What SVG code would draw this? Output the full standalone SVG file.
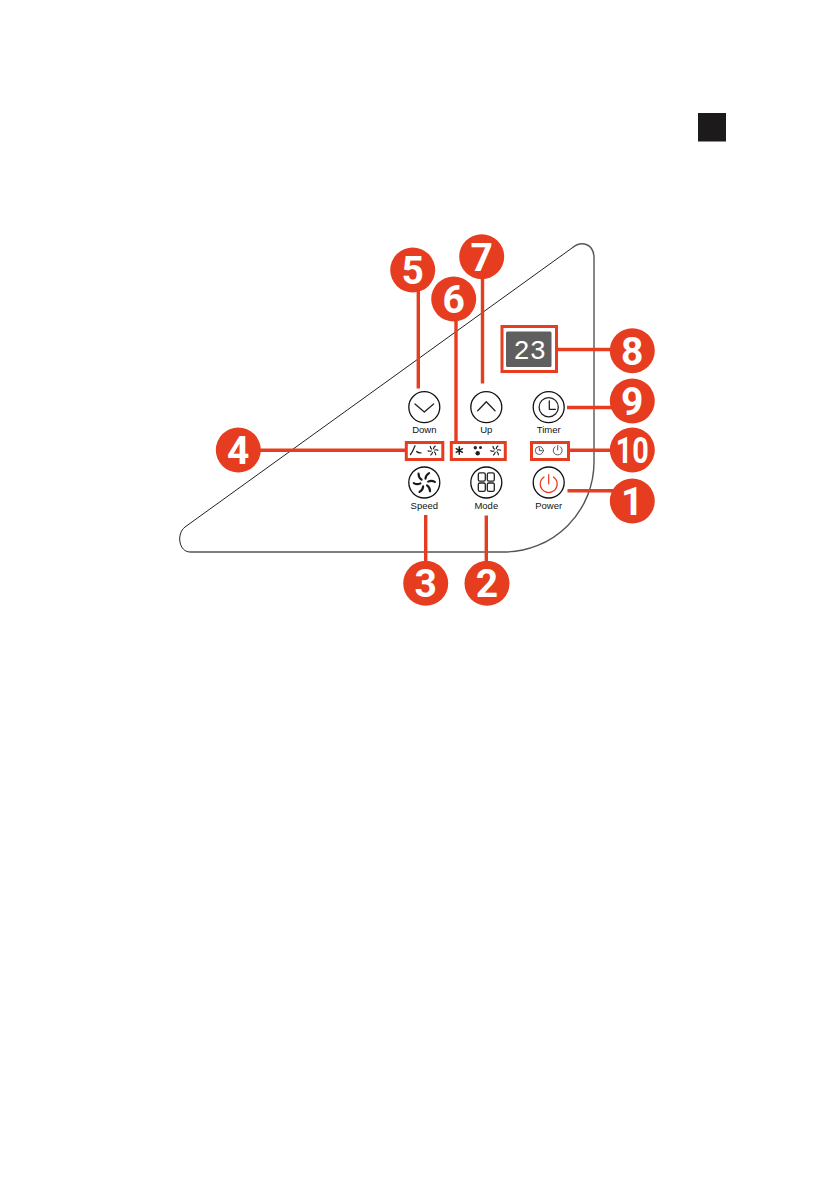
<svg xmlns="http://www.w3.org/2000/svg" xmlns:xlink="http://www.w3.org/1999/xlink" width="839" height="1191" viewBox="0 0 839 1191">
<style>
.btn{fill:#fff;stroke:#111;stroke-width:1.3}
.ico{fill:none;stroke:#222;stroke-width:1.3;stroke-linecap:round;stroke-linejoin:round}
.thin{fill:none;stroke:#444;stroke-width:.9;stroke-linecap:round}
.lbl{font-family:"Liberation Sans",Arial,sans-serif;font-size:9.5px;fill:#111;text-anchor:middle}
.num{font-family:Roboto,"Liberation Sans",sans-serif;font-weight:700;font-size:39px;fill:#fff;text-anchor:middle}
.conn{stroke:#e63c1f;stroke-width:3.4;fill:none}
.box{fill:none;stroke:#e63c1f;stroke-width:3}
.dot{fill:#e63c1f}
</style>
<defs>
<path id="blade" d="M.7-2.3C.8-3.6 1.5-4.9 2.9-5.7" fill="none" stroke="#1a1a1a" stroke-linecap="round"/>
<g id="fan">
<use xlink:href="#blade" href="#blade"/>
<use xlink:href="#blade" href="#blade" transform="rotate(60)"/>
<use xlink:href="#blade" href="#blade" transform="rotate(120)"/>
<use xlink:href="#blade" href="#blade" transform="rotate(180)"/>
<use xlink:href="#blade" href="#blade" transform="rotate(240)"/>
<use xlink:href="#blade" href="#blade" transform="rotate(300)"/>
</g>
</defs>
<rect width="839" height="1191" fill="#fff"/>
<rect id="page-tab" x="698" y="113" width="28" height="28.5" fill="#1c1a1a"/>
<path id="panel-edge" d="M190 552H504A90 90 0 0 0 594 462V258C594 244 582 240 572 248" fill="none" stroke="#555" stroke-width="1.4"/>
<path id="panel-diagonal" d="M572 248 185 527C176 534 179 552 190 552" fill="none" stroke="#222" stroke-width="1"/>

<g id="connectors">
<path class="conn" d="M418.3 285V388.500"/>
<path class="conn" d="M456 315V442"/>
<path class="conn" d="M482.500 275V383.500"/>
<path class="conn" d="M558 349.500H615"/>
<path class="conn" d="M567 407.500H615"/>
<path class="conn" d="M570 450.300H615"/>
<path class="conn" d="M567.500 490.700H615"/>
<path class="conn" d="M255 450.300H405"/>
<path class="conn" d="M425.700 515V565"/>
<path class="conn" d="M486.300 515.500V565"/>
</g>

<g id="display">
<rect class="box" x="502" y="326.500" width="54.500" height="45"/>
<rect x="506" y="331.500" width="45.500" height="35.500" rx="1.500" fill="#5f5f5f"/>
<text x="529.700" y="358.500" font-family="'Liberation Mono',monospace" font-size="27" fill="#fff" text-anchor="middle">23</text>
</g>

<g id="btn-down"><circle class="btn" cx="424.300" cy="407.200" r="15.500"/><path class="ico" d="M415 404 424.300 412 433.600 404"/><text class="lbl" x="424.300" y="433.300">Down</text></g>
<g id="btn-up"><circle class="btn" cx="486.300" cy="407.200" r="15.500"/><path class="ico" d="M477.700 410.700 486.300 401.700 495 410.700"/><text class="lbl" x="486.300" y="433.300">Up</text></g>
<g id="btn-timer"><circle class="btn" cx="548.700" cy="407.200" r="15.500"/><circle class="ico" cx="548.700" cy="407.200" r="9.600"/><path class="ico" d="M549.300 401V409.300H555.500"/><text class="lbl" x="548.700" y="433.300">Timer</text></g>
<g id="btn-speed"><circle class="btn" cx="424.300" cy="482.500" r="15.500"/><use xlink:href="#fan" href="#fan" transform="translate(424.300 482.500) scale(1.650)" stroke-width="1.300"/><text class="lbl" x="424.300" y="509">Speed</text></g>
<g id="btn-mode"><circle class="btn" cx="486.300" cy="482.500" r="15.500"/><g class="ico"><rect x="478.300" y="472.800" width="7" height="8.400" rx="1.600"/><rect x="487.300" y="472.800" width="7" height="8.400" rx="1.600"/><rect x="478.300" y="483" width="7" height="8.400" rx="1.600"/><rect x="487.300" y="483" width="7" height="8.400" rx="1.600"/></g><text class="lbl" x="486.300" y="509">Mode</text></g>
<g id="btn-power"><circle class="btn" cx="548.700" cy="482.500" r="15.500"/><path d="M544 477A8.500 8.500 0 1 0 553.400 477M548.700 474.500V484" fill="none" stroke="#e63c1f" stroke-width="1.200" stroke-linecap="round"/><text class="lbl" x="548.700" y="509">Power</text></g>

<g id="ind-4">
<rect class="box" x="406.300" y="442.500" width="36.500" height="17"/>
<path d="M410.500 454.500C412.500 452 413.500 449 415 445.800M416.700 451.500C417.500 452.500 419 453 421 452.800" fill="none" stroke="#222" stroke-width="1.300" stroke-linecap="round"/>
<use xlink:href="#fan" href="#fan" transform="translate(433 450.500) scale(.78)" stroke-width="1.500"/>
</g>
<g id="ind-6">
<rect class="box" x="451.300" y="442.500" width="54" height="17"/>
<path d="M459.300 446.300V454.700M455.700 448.400 462.900 452.600M455.700 452.600 462.900 448.400" stroke="#222" stroke-width="1.500" fill="none"/>
<g fill="#222"><circle cx="475.300" cy="447.800" r="1.700"/><circle cx="480.500" cy="447.400" r="1.500"/><circle cx="477.700" cy="453.300" r="2.200"/></g>
<use xlink:href="#fan" href="#fan" transform="translate(495.700 450.500) scale(.78)" stroke-width="1.500"/>
</g>
<g id="ind-10">
<rect class="box" x="531.500" y="442.500" width="37" height="17"/>
<circle class="thin" cx="539.300" cy="450.500" r="4"/><path class="thin" d="M539.300 447.800V450.700H541.800"/>
<path class="thin" d="M555 446.800A4.500 4.500 0 1 0 560.400 446.800M557.700 445.500V450"/>
</g>

<g id="badge-5"><circle class="dot" cx="412.700" cy="270" r="22.500"/><text class="num" x="412.700" y="284">5</text></g>
<g id="badge-6"><circle class="dot" cx="453.700" cy="299" r="22.500"/><text class="num" x="453.700" y="313">6</text></g>
<g id="badge-7"><circle class="dot" cx="481.700" cy="256.700" r="22.500"/><text class="num" x="481.700" y="270.700">7</text></g>
<g id="badge-8"><circle class="dot" cx="632.300" cy="350.700" r="22.500"/><text class="num" x="632.300" y="364.700">8</text></g>
<g id="badge-9"><circle class="dot" cx="632.300" cy="401" r="22.500"/><text class="num" x="632.300" y="415">9</text></g>
<g id="badge-10"><circle class="dot" cx="632.300" cy="450" r="22.500"/><text class="num" x="632.300" y="463" style="font-size:36px" textLength="33" lengthAdjust="spacingAndGlyphs">10</text></g>
<g id="badge-1"><circle class="dot" cx="632.300" cy="501" r="22.500"/><text class="num" x="632.300" y="515">1</text></g>
<g id="badge-4"><circle class="dot" cx="238.300" cy="450" r="22.500"/><text class="num" x="238.300" y="464">4</text></g>
<g id="badge-3"><circle class="dot" cx="425.700" cy="583.300" r="22.500"/><text class="num" x="425.700" y="597.300">3</text></g>
<g id="badge-2"><circle class="dot" cx="487" cy="583.300" r="22.500"/><text class="num" x="487" y="597.300">2</text></g>
</svg>
